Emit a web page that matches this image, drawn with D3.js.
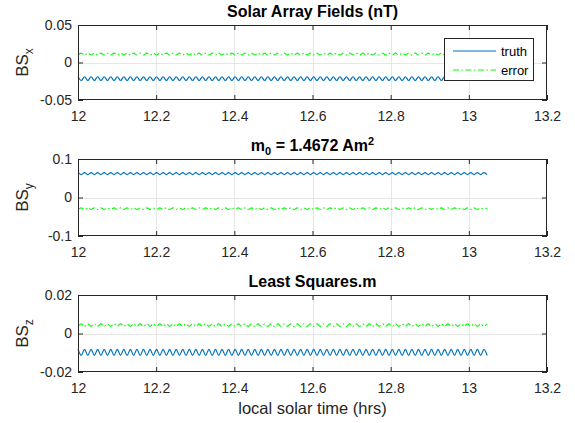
<!DOCTYPE html>
<html>
<head>
<meta charset="utf-8">
<script src="https://cdn.jsdelivr.net/npm/d3@7"></script>
<style>
  body { margin: 0; background: #fff; }
  svg { font-family: "Liberation Sans", Arial, sans-serif; }
</style>
</head>
<body>
<svg id="fig" width="575" height="423"></svg>
<script>
// x axis: local solar time (hrs), samples run evenly from tStart to tEnd
const xTicks = [12, 12.2, 12.4, 12.6, 12.8, 13, 13.2];
const tStart = 12, tEnd = 13.047;

// extrema of each trace (crest / trough, one per half period)
const bsxTruth = [
  -0.019,-0.024,-0.019,-0.024,-0.019,-0.024,-0.019,-0.024,-0.019,-0.024,-0.019,-0.024,-0.019,-0.024,-0.019,-0.024,-0.019,-0.024,
  -0.019,-0.024,-0.019,-0.024,-0.019,-0.024,-0.019,-0.024,-0.019,-0.024,-0.019,-0.024,-0.019,-0.024,-0.019,-0.024,-0.019,-0.024,
  -0.019,-0.024,-0.019,-0.024,-0.019,-0.024,-0.019,-0.024,-0.019,-0.024,-0.019,-0.024,-0.019,-0.024,-0.019,-0.024,-0.019,-0.024,
  -0.019,-0.024,-0.019,-0.024,-0.019,-0.024,-0.019,-0.024,-0.019,-0.024,-0.019,-0.024,-0.019,-0.024,-0.019,-0.024,-0.019,-0.024,
  -0.019,-0.024,-0.019,-0.024,-0.019,-0.024,-0.019,-0.024,-0.019,-0.024,-0.019,-0.024,-0.019,-0.024,-0.019,-0.024,-0.019,-0.024,
  -0.019,-0.024,-0.019,-0.024,-0.019,-0.024,-0.019,-0.024,-0.019,-0.024,-0.019,-0.024,-0.019,-0.024,-0.019,-0.024,-0.019,-0.024,
  -0.019,-0.024,-0.019,-0.024,-0.019,-0.024,-0.019,-0.024,-0.019,-0.024,-0.019,-0.024,-0.019,-0.024,-0.019,-0.024,-0.019,-0.024
];
const bsxError = [
  0.010,0.0125,0.010,0.0125,0.010,0.0125,0.010,0.0125,0.010,0.0125,0.010,0.0125,0.010,0.0125,0.010,0.0125,0.010,0.0125,
  0.010,0.0125,0.010,0.0125,0.010,0.0125,0.010,0.0125,0.010,0.0125,0.010,0.0125,0.010,0.0125,0.010,0.0125,0.010,0.0125,
  0.010,0.0125,0.010,0.0125,0.010,0.0125,0.010,0.0125,0.010,0.0125,0.010,0.0125,0.010,0.0125,0.010,0.0125,0.010,0.0125,
  0.010,0.0125,0.010,0.0125,0.010,0.0125,0.010,0.0125,0.010,0.0125,0.010,0.0125,0.010,0.0125,0.010,0.0125,0.010,0.0125,
  0.010,0.0125,0.010,0.0125,0.010,0.0125,0.010,0.0125,0.010,0.0125,0.010,0.0125,0.010,0.0125,0.010,0.0125,0.010,0.0125,
  0.010,0.0125,0.010,0.0125,0.010,0.0125,0.010,0.0125,0.010,0.0125,0.010,0.0125,0.010,0.0125,0.010,0.0125,0.010,0.0125,
  0.010,0.0125,0.010,0.0125,0.010,0.0125,0.010,0.0125,0.010,0.0125,0.010,0.0125,0.010,0.0125,0.010,0.0125,0.010,0.0125
];
const bsyTruth = [
  0.0645,0.0595,0.0645,0.0595,0.0645,0.0595,0.0645,0.0595,0.0645,0.0595,0.0645,0.0595,0.0645,0.0595,0.0645,0.0595,0.0645,0.0595,
  0.0645,0.0595,0.0645,0.0595,0.0645,0.0595,0.0645,0.0595,0.0645,0.0595,0.0645,0.0595,0.0645,0.0595,0.0645,0.0595,0.0645,0.0595,
  0.0645,0.0595,0.0645,0.0595,0.0645,0.0595,0.0645,0.0595,0.0645,0.0595,0.0645,0.0595,0.0645,0.0595,0.0645,0.0595,0.0645,0.0595,
  0.0645,0.0595,0.0645,0.0595,0.0645,0.0595,0.0645,0.0595,0.0645,0.0595,0.0645,0.0595,0.0645,0.0595,0.0645,0.0595,0.0645,0.0595,
  0.0645,0.0595,0.0645,0.0595,0.0645,0.0595,0.0645,0.0595,0.0645,0.0595,0.0645,0.0595,0.0645,0.0595,0.0645,0.0595,0.0645,0.0595,
  0.0645,0.0595,0.0645,0.0595,0.0645,0.0595,0.0645,0.0595,0.0645,0.0595,0.0645,0.0595,0.0645,0.0595,0.0645,0.0595,0.0645,0.0595,
  0.0645,0.0595,0.0645,0.0595,0.0645,0.0595,0.0645,0.0595,0.0645,0.0595,0.0645,0.0595,0.0645,0.0595,0.0645,0.0595,0.0645,0.0595
];
const bsyError = [
  -0.031,-0.027,-0.031,-0.027,-0.031,-0.027,-0.031,-0.027,-0.031,-0.027,-0.031,-0.027,-0.031,-0.027,-0.031,-0.027,-0.031,-0.027,
  -0.031,-0.027,-0.031,-0.027,-0.031,-0.027,-0.031,-0.027,-0.031,-0.027,-0.031,-0.027,-0.031,-0.027,-0.031,-0.027,-0.031,-0.027,
  -0.031,-0.027,-0.031,-0.027,-0.031,-0.027,-0.031,-0.027,-0.031,-0.027,-0.031,-0.027,-0.031,-0.027,-0.031,-0.027,-0.031,-0.027,
  -0.031,-0.027,-0.031,-0.027,-0.031,-0.027,-0.031,-0.027,-0.031,-0.027,-0.031,-0.027,-0.031,-0.027,-0.031,-0.027,-0.031,-0.027,
  -0.031,-0.027,-0.031,-0.027,-0.031,-0.027,-0.031,-0.027,-0.031,-0.027,-0.031,-0.027,-0.031,-0.027,-0.031,-0.027,-0.031,-0.027,
  -0.031,-0.027,-0.031,-0.027,-0.031,-0.027,-0.031,-0.027,-0.031,-0.027,-0.031,-0.027,-0.031,-0.027,-0.031,-0.027,-0.031,-0.027,
  -0.031,-0.027,-0.031,-0.027,-0.031,-0.027,-0.031,-0.027,-0.031,-0.027,-0.031,-0.027,-0.031,-0.027,-0.031,-0.027,-0.031,-0.027
];
const bszTruth = [
  -0.0082,-0.0114,-0.0082,-0.0114,-0.0082,-0.0114,-0.0082,-0.0114,-0.0082,-0.0114,-0.0082,-0.0114,-0.0082,-0.0114,-0.0082,-0.0114,-0.0082,-0.0114,
  -0.0082,-0.0114,-0.0082,-0.0114,-0.0082,-0.0114,-0.0082,-0.0114,-0.0082,-0.0114,-0.0082,-0.0114,-0.0082,-0.0114,-0.0082,-0.0114,-0.0082,-0.0114,
  -0.0082,-0.0114,-0.0082,-0.0114,-0.0082,-0.0114,-0.0082,-0.0114,-0.0082,-0.0114,-0.0082,-0.0114,-0.0082,-0.0114,-0.0082,-0.0114,-0.0082,-0.0114,
  -0.0082,-0.0114,-0.0082,-0.0114,-0.0082,-0.0114,-0.0082,-0.0114,-0.0082,-0.0114,-0.0082,-0.0114,-0.0082,-0.0114,-0.0082,-0.0114,-0.0082,-0.0114,
  -0.0082,-0.0114,-0.0082,-0.0114,-0.0082,-0.0114,-0.0082,-0.0114,-0.0082,-0.0114,-0.0082,-0.0114,-0.0082,-0.0114,-0.0082,-0.0114,-0.0082,-0.0114,
  -0.0082,-0.0114,-0.0082,-0.0114,-0.0082,-0.0114,-0.0082,-0.0114,-0.0082,-0.0114,-0.0082,-0.0114,-0.0082,-0.0114,-0.0082,-0.0114,-0.0082,-0.0114,
  -0.0082,-0.0114,-0.0082,-0.0114,-0.0082,-0.0114,-0.0082,-0.0114,-0.0082,-0.0114,-0.0082,-0.0114,-0.0082,-0.0114,-0.0082,-0.0114,-0.0082,-0.0114
];
const bszError = [
  0.0037,0.0050,0.0037,0.0050,0.0037,0.0050,0.0037,0.0050,0.0037,0.0050,0.0037,0.0050,0.0037,0.0050,0.0037,0.0050,0.0037,0.0050,
  0.0037,0.0050,0.0037,0.0050,0.0037,0.0050,0.0037,0.0050,0.0037,0.0050,0.0037,0.0050,0.0037,0.0050,0.0037,0.0050,0.0037,0.0050,
  0.0037,0.0050,0.0037,0.0050,0.0037,0.0050,0.0037,0.0050,0.0037,0.0050,0.0037,0.0050,0.0037,0.0050,0.0037,0.0050,0.0037,0.0050,
  0.0037,0.0050,0.0037,0.0050,0.0037,0.0050,0.0037,0.0050,0.0037,0.0050,0.0037,0.0050,0.0037,0.0050,0.0037,0.0050,0.0037,0.0050,
  0.0037,0.0050,0.0037,0.0050,0.0037,0.0050,0.0037,0.0050,0.0037,0.0050,0.0037,0.0050,0.0037,0.0050,0.0037,0.0050,0.0037,0.0050,
  0.0037,0.0050,0.0037,0.0050,0.0037,0.0050,0.0037,0.0050,0.0037,0.0050,0.0037,0.0050,0.0037,0.0050,0.0037,0.0050,0.0037,0.0050,
  0.0037,0.0050,0.0037,0.0050,0.0037,0.0050,0.0037,0.0050,0.0037,0.0050,0.0037,0.0050,0.0037,0.0050,0.0037,0.0050,0.0037,0.0050
];

const yTicksX = [-0.05, 0, 0.05];
const yTicksY = [-0.1, 0, 0.1];
const yTicksZ = [-0.02, 0, 0.02];
const seriesNames = ["truth", "error"];

const BLUE = "#0072bd", GREEN = "#00ff00", AX = "#262626", GRID = "#e6e6e6";
const DASHDOT = "6,2.5,1.5,2.5";

// layout of the three subplots
const left = 78, right = 547;
const panels = [
  { title: "solar", sub: "x", ticks: yTicksX, truth: bsxTruth, error: bsxError, top: 25, bottom: 100 },
  { title: "m0",    sub: "y", ticks: yTicksY, truth: bsyTruth, error: bsyError, top: 159, bottom: 236 },
  { title: "ls",    sub: "z", ticks: yTicksZ, truth: bszTruth, error: bszError, top: 295, bottom: 372 }
];

const svg = d3.select("#fig");
const x = d3.scaleLinear().domain([12, 13.2]).range([left, right]);
const fmt = d => String(d);

panels.forEach((p, pi) => {
  const y = d3.scaleLinear().domain([p.ticks[0], p.ticks[2]]).range([p.bottom, p.top]);
  const g = svg.append("g");

  // grid
  g.append("g").selectAll("line").data(xTicks.slice(1, -1)).enter().append("line")
    .attr("x1", d => Math.round(x(d)) + 0.5).attr("x2", d => Math.round(x(d)) + 0.5)
    .attr("y1", p.top).attr("y2", p.bottom)
    .attr("stroke", GRID);
  g.append("g").selectAll("line").data(p.ticks.slice(1, -1)).enter().append("line")
    .attr("x1", left).attr("x2", right)
    .attr("y1", d => Math.round(y(d)) + 0.5).attr("y2", d => Math.round(y(d)) + 0.5)
    .attr("stroke", GRID);

  // traces
  const n = p.truth.length;
  const tAt = i => tStart + i * (tEnd - tStart) / (n - 1);
  const line = d3.line().x((d, i) => x(tAt(i))).y(d => y(d)).curve(d3.curveMonotoneX);
  g.append("path").attr("d", line(p.truth)).attr("fill", "none")
    .attr("stroke", BLUE).attr("stroke-width", 1.2);
  g.append("path").attr("d", line(p.error)).attr("fill", "none")
    .attr("stroke", GREEN).attr("stroke-width", 1.1).attr("stroke-dasharray", DASHDOT);

  // axes (ticks inside, MATLAB style)
  const styleAxis = sel => {
    sel.select(".domain").remove();
    sel.selectAll(".tick line").attr("stroke", AX);
    sel.selectAll(".tick text").attr("fill", AX).style("font-size", "14px")
      .style("font-family", '"Liberation Sans", Arial, sans-serif');
  };
  g.append("g").attr("transform", `translate(0,${p.bottom})`)
    .call(d3.axisBottom(x).tickValues(xTicks).tickFormat(fmt).tickSizeInner(-5).tickSizeOuter(0).tickPadding(11))
    .call(styleAxis);
  g.append("g").attr("transform", `translate(0,${p.top})`)
    .call(d3.axisTop(x).tickValues(xTicks).tickFormat("").tickSizeInner(-5).tickSizeOuter(0))
    .call(styleAxis);
  g.append("g").attr("transform", `translate(${left},0)`)
    .call(d3.axisLeft(y).tickValues(p.ticks).tickFormat(fmt).tickSizeInner(-5).tickSizeOuter(0).tickPadding(6))
    .call(styleAxis);
  g.append("g").attr("transform", `translate(${right},0)`)
    .call(d3.axisRight(y).tickValues(p.ticks).tickFormat("").tickSizeInner(-5).tickSizeOuter(0))
    .call(styleAxis);

  g.append("rect").attr("x", left + 0.5).attr("y", p.top + 0.5)
    .attr("width", right - left - 1).attr("height", p.bottom - p.top - 1)
    .attr("fill", "none").attr("stroke", AX);

  // title
  const tt = svg.append("text").attr("x", (left + right) / 2).attr("y", p.top - 8)
    .attr("text-anchor", "middle").attr("fill", "#000")
    .style("font-size", "16px").style("font-weight", "bold");
  if (p.title === "solar") tt.text("Solar Array Fields (nT)");
  else if (p.title === "ls") tt.text("Least Squares.m");
  else {
    tt.append("tspan").text("m");
    tt.append("tspan").attr("dy", 4).style("font-size", "11px").text("0");
    tt.append("tspan").attr("dy", -4).text(" = 1.4672 Am");
    tt.append("tspan").attr("dy", -6).style("font-size", "11px").text("2");
  }

  // y label
  const cy = (p.top + p.bottom) / 2;
  const yl = svg.append("text").attr("transform", `translate(28,${cy}) rotate(-90)`)
    .attr("text-anchor", "middle").attr("fill", AX).style("font-size", "17px");
  yl.append("tspan").text("BS");
  yl.append("tspan").attr("dy", 5).style("font-size", "12px").text(p.sub);
});

// x label
svg.append("text").attr("x", (left + right) / 2).attr("y", 414)
  .attr("text-anchor", "middle").attr("fill", AX).style("font-size", "16.5px")
  .text("local solar time (hrs)");

// legend
const lg = svg.append("g").attr("transform", "translate(444,38)");
lg.append("rect").attr("x", 0.5).attr("y", 0.5).attr("width", 89).attr("height", 42)
  .attr("fill", "#fff").attr("stroke", AX);
seriesNames.forEach((s, i) => {
  const yy = 13 + i * 19;
  lg.append("line").attr("x1", 9).attr("x2", 52).attr("y1", yy).attr("y2", yy)
    .attr("stroke", i === 0 ? BLUE : GREEN)
    .attr("stroke-dasharray", i === 0 ? null : DASHDOT);
  lg.append("text").attr("x", 57).attr("y", yy).attr("dy", "0.35em")
    .attr("fill", "#000").style("font-size", "13px").text(s);
});
</script>
</body>
</html>
